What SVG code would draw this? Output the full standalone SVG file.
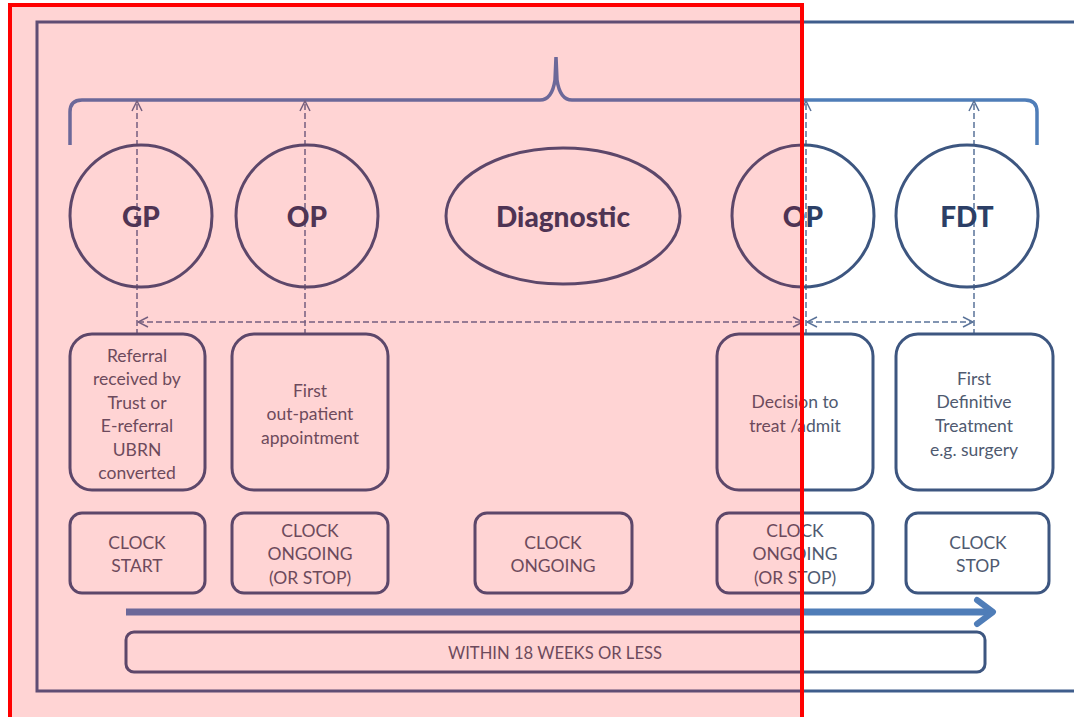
<svg xmlns="http://www.w3.org/2000/svg" width="1074" height="717" viewBox="0 0 1074 717">
<defs>
<style>
.circ{fill:none;stroke:#3d5680;stroke-width:3}
.box{fill:none;stroke:#3d5680;stroke-width:3}
.lbl{font-family:Lato,"Open Sans",sans-serif;font-weight:900;font-size:28px;fill:#2c3f66;text-anchor:middle;dominant-baseline:central}
.txt{font-family:Lato,"Open Sans",sans-serif;font-size:17.5px;fill:#4f5a70;text-anchor:middle;dominant-baseline:central}
.dash{fill:none;stroke:#5a7399;stroke-width:1.5;stroke-dasharray:6 3}
</style>
<marker id="ah" viewBox="0 0 12 12" refX="11" refY="6" markerWidth="12" markerHeight="12" markerUnits="userSpaceOnUse" orient="auto-start-reverse">
<path d="M1,1 L11,6 L1,11" fill="none" stroke="#5a7399" stroke-width="1.5"/>
</marker>
</defs>
<rect width="1074" height="717" fill="#ffffff"/>
<path d="M1080,22 H37 V691 H1080" fill="none" stroke="#3f5d8c" stroke-width="3"/>
<path d="M70,145 V112 Q70,100 82,100 H540 Q552,100 555,80 L556,57 L557,80 Q560,100 572,100 H1025 Q1037,100 1037,112 V145" fill="none" stroke="#4f7db8" stroke-width="3.5"/>
<g id="connectors">
<line class="dash" x1="137" y1="335" x2="137" y2="101" marker-end="url(#ah)"/>
<line class="dash" x1="305" y1="335" x2="305" y2="101" marker-end="url(#ah)"/>
<line class="dash" x1="806" y1="335" x2="806" y2="101" marker-end="url(#ah)"/>
<line class="dash" x1="974" y1="335" x2="974" y2="101" marker-end="url(#ah)"/>
<line class="dash" x1="138" y1="322" x2="803" y2="322" marker-start="url(#ah)" marker-end="url(#ah)"/>
<line class="dash" x1="807" y1="322" x2="973" y2="322" marker-start="url(#ah)" marker-end="url(#ah)"/>
<line x1="126" y1="612" x2="990" y2="612" stroke="#4f7db8" stroke-width="7"/>
<path d="M977,600 L993,612 L977,624" fill="none" stroke="#4f7db8" stroke-width="6" stroke-linecap="round" stroke-linejoin="round"/>
</g>
<g id="gp"><circle class="circ" cx="141" cy="216" r="71"/><text class="lbl" x="141" y="216">GP</text></g>
<g id="op1"><circle class="circ" cx="307" cy="216" r="71"/><text class="lbl" x="307" y="216">OP</text></g>
<g id="diagnostic"><ellipse class="circ" cx="563" cy="216" rx="117" ry="68"/><text class="lbl" x="563" y="216" font-size="26">Diagnostic</text></g>
<g id="op2"><circle class="circ" cx="803" cy="216" r="71"/><text class="lbl" x="803" y="216">OP</text></g>
<g id="fdt"><circle class="circ" cx="967" cy="216" r="71"/><text class="lbl" x="967" y="216">FDT</text></g>
<g id="referral"><rect class="box" x="70" y="334" width="135" height="156" rx="22"/>
<text class="txt" x="137" y="355">Referral</text><text class="txt" x="137" y="378">received by</text><text class="txt" x="137" y="402">Trust or</text><text class="txt" x="137" y="425">E-referral</text><text class="txt" x="137" y="449">UBRN</text><text class="txt" x="137" y="472">converted</text></g>
<g id="first-op"><rect class="box" x="232" y="334" width="156" height="156" rx="22"/>
<text class="txt" x="310" y="390">First</text><text class="txt" x="310" y="413">out-patient</text><text class="txt" x="310" y="437">appointment</text></g>
<g id="decision"><rect class="box" x="717" y="334" width="156" height="156" rx="22"/>
<text class="txt" x="795" y="401">Decision to</text><text class="txt" x="795" y="425">treat /admit</text></g>
<g id="fdt-box"><rect class="box" x="896" y="334" width="157" height="156" rx="22"/>
<text class="txt" x="974" y="378">First</text><text class="txt" x="974" y="401">Definitive</text><text class="txt" x="974" y="425">Treatment</text><text class="txt" x="974" y="449">e.g. surgery</text></g>
<g id="clock-start"><rect class="box" x="70" y="513" width="135" height="80" rx="12"/>
<text class="txt" x="137" y="542">CLOCK</text><text class="txt" x="137" y="565">START</text></g>
<g id="clock-ongoing1"><rect class="box" x="232" y="513" width="156" height="80" rx="12"/>
<text class="txt" x="310" y="530">CLOCK</text><text class="txt" x="310" y="553">ONGOING</text><text class="txt" x="310" y="577">(OR STOP)</text></g>
<g id="clock-ongoing2"><rect class="box" x="475" y="513" width="157" height="80" rx="12"/>
<text class="txt" x="553" y="542">CLOCK</text><text class="txt" x="553" y="565">ONGOING</text></g>
<g id="clock-ongoing3"><rect class="box" x="717" y="513" width="156" height="80" rx="12"/>
<text class="txt" x="795" y="530">CLOCK</text><text class="txt" x="795" y="553">ONGOING</text><text class="txt" x="795" y="577">(OR STOP)</text></g>
<g id="clock-stop"><rect class="box" x="906" y="513" width="143" height="80" rx="12"/>
<text class="txt" x="978" y="542">CLOCK</text><text class="txt" x="978" y="565">STOP</text></g>
<g id="within"><rect class="box" x="126" y="632" width="859" height="40" rx="8"/>
<text class="txt" x="555" y="652" font-size="16" textLength="214" lengthAdjust="spacingAndGlyphs">WITHIN 18 WEEKS OR LESS</text></g>
<rect x="10" y="5" width="792" height="720" fill="rgba(255,0,0,0.17)" stroke="#ff0000" stroke-width="4"/>
</svg>
